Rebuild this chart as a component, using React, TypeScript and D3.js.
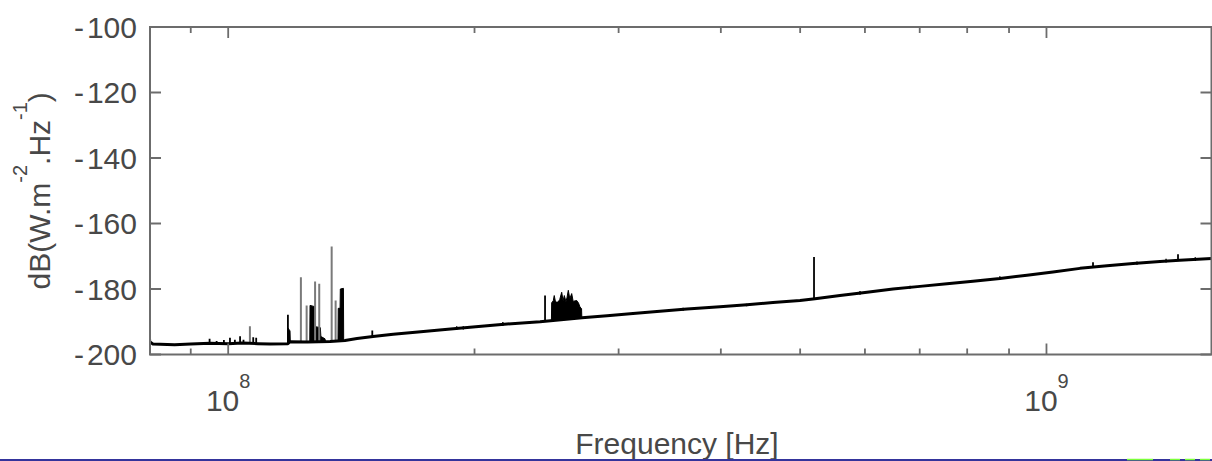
import React from 'react';
import * as d3 from 'd3';

// ---------- data (frequency in MHz, level in dB(W.m^-2.Hz^-1)) ----------
const xDomainMHz: [number, number] = [80.25, 1591];
const yDomain: [number, number] = [-200, -100];
const yTicks = [-200, -180, -160, -140, -120, -100];
const xMajorTicksMHz = [100, 1000];
const xMajorLabels = [
  { base: '10', exp: '8' },
  { base: '10', exp: '9' },
];
const xMinorTicksMHz = [90, 200, 300, 400, 500, 600, 700, 800, 900];

// noise floor (levels)
const baseline: [number, number][] = [
  [80.25, -196.2], [80.9, -196.8], [86.0, -197.0], [90.0, -196.8], [95.0, -196.6],
  [100.0, -196.7], [104.0, -196.5], [108.7, -196.7], [112.5, -196.8], [118.3, -196.7],
  [119.0, -196.1], [125.0, -196.2], [133.2, -196.0], [138.9, -195.7], [143.7, -195.1],
  [150.3, -194.5], [159.1, -193.8], [170.6, -193.1], [184.1, -192.4], [197.5, -191.7],
  [207.2, -191.2], [219.2, -190.7], [240.5, -190.0], [270.6, -188.8], [290.4, -188.2],
  [312.4, -187.5], [337.0, -186.8], [363.6, -186.1], [399.0, -185.4], [430.5, -184.8],
  [463.2, -184.1], [499.8, -183.5], [521.4, -183.0], [559.3, -182.0], [603.5, -181.0],
  [649.3, -180.0], [700.5, -179.2], [755.8, -178.4], [813.2, -177.6], [877.4, -176.8],
  [946.7, -175.8], [1018.5, -174.8], [1098.9, -173.7], [1185.7, -172.9], [1275.7, -172.2],
  [1376.4, -171.6], [1455.2, -171.2], [1591.0, -170.7],
];

// thin grey spikes [MHz, peak dB]
const greySpikes: [number, number][] = [
  [106.3, -191.4], [122.7, -176.4], [124.7, -185.0], [127.7, -177.7],
  [129.2, -178.4], [133.8, -167.0], [135.3, -183.5],
];

// black spikes [MHz, peak dB]
const blackSpikes: [number, number][] = [
  [80.3, -195.4], [94.9, -195.2], [96.8, -195.9], [98.8, -195.6], [100.5, -194.9],
  [101.9, -195.5], [103.4, -194.4], [104.4, -195.5], [107.3, -194.7], [108.2, -194.9],
  [118.3, -187.9], [150.0, -192.7], [243.9, -182.0], [519.9, -170.2],
  [1139.9, -171.8], [1447.9, -169.4],
];

// small ripple ticks on the floor [MHz, peak dB]
const ripples: [number, number][] = [
  [190.2, -191.4], [193.8, -191.4], [216.6, -190.1], [233.6, -190.0], [359.7, -185.7],
  [430.0, -184.5], [591.7, -180.6], [681.0, -179.0], [877.0, -176.1], [1290.0, -171.6],
  [1400.0, -170.8], [1520.0, -170.3],
];

// dense clusters drawn as filled outlines [MHz, top dB]
const cluster118: [number, number][] = [
  [118.2, -196.7], [118.3, -191.9], [119.0, -192.8], [119.1, -196.1],
];
const cluster127: [number, number][] = [
  [125.8, -196.2], [125.9, -185.0], [127.6, -185.4], [127.8, -191.5],
  [129.6, -191.8], [129.8, -194.5], [131.3, -195.2], [131.5, -196.0],
];
const cluster137: [number, number][] = [
  [136.2, -196.0], [136.3, -185.9], [137.0, -185.9], [137.1, -180.0],
  [138.3, -179.8], [138.4, -195.8],
];
const cluster250: [number, number][] = [
  [248.3, -190.0], [248.5, -184.2], [249.6, -183.6], [250.3, -182.0], [251.2, -184.0],
  [253.0, -184.0], [254.2, -183.2], [255.6, -181.0], [256.6, -183.6], [257.5, -182.0],
  [258.7, -183.9], [259.5, -182.5], [260.4, -180.4], [261.5, -183.0], [262.9, -181.4],
  [264.0, -183.8], [265.5, -183.6], [266.6, -183.5], [268.0, -184.3], [269.1, -185.5],
  [270.3, -186.0], [270.5, -188.8],
];
const clusters = [cluster118, cluster127, cluster137, cluster250];

// ---------- layout ----------
const W = 1212;
const H = 461;
const L = 150, R = 1211.5, T = 27, B = 354.5;
const FONT = "'Liberation Sans', Arial, Helvetica, sans-serif";
const AXIS = '#6c6c6c';
const TEXT = '#484848';

const x = d3.scaleLog().domain(xDomainMHz).range([L, R]);
const y = d3.scaleLinear().domain(yDomain).range([B, T]);

function baseAt(f: number): number {
  for (let i = 1; i < baseline.length; i++) {
    const a = baseline[i - 1], b = baseline[i];
    if (f <= b[0]) {
      const t = (Math.log(f) - Math.log(a[0])) / (Math.log(b[0]) - Math.log(a[0]));
      return a[1] + Math.max(0, Math.min(1, t)) * (b[1] - a[1]);
    }
  }
  return baseline[baseline.length - 1][1];
}

const floorLine = d3
  .line<[number, number]>()
  .x((d) => x(d[0]))
  .y((d) => y(d[1]))
  .curve(d3.curveLinear);

const clusterArea = d3
  .area<[number, number]>()
  .x((d) => x(d[0]))
  .y0((d) => y(baseAt(d[0])))
  .y1((d) => y(d[1]));

function yLabel(v: number) {
  const s = String(v);
  if (s.startsWith('-')) {
    return (
      <>
        <tspan>-</tspan>
        <tspan dx={3}>{s.slice(1)}</tspan>
      </>
    );
  }
  return s;
}

export default function App() {
  return (
    <svg
      width={W}
      height={H}
      viewBox={`0 0 ${W} ${H}`}
      style={{ position: 'absolute', left: 0, top: 0, background: '#fff' }}
      fontFamily={FONT}
    >
      <rect x={0} y={0} width={W} height={H} fill="#fff" />
      <defs>
        <clipPath id="plot">
          <rect x={L} y={T} width={R - L} height={B - T} />
        </clipPath>
      </defs>

      <g clipPath="url(#plot)">
        {clusters.map((c, i) => (
          <path key={'c' + i} d={clusterArea(c) || ''} fill="#000" stroke="#000" strokeWidth={1} />
        ))}
        {greySpikes.map((s, i) => (
          <line key={'g' + i} x1={x(s[0])} x2={x(s[0])} y1={y(s[1])} y2={y(baseAt(s[0]))}
            stroke="#7a7a7a" strokeWidth={2} />
        ))}
        {blackSpikes.map((s, i) => (
          <line key={'b' + i} x1={x(s[0])} x2={x(s[0])} y1={y(s[1])} y2={y(baseAt(s[0]))}
            stroke="#000" strokeWidth={1.8} />
        ))}
        {ripples.map((s, i) => (
          <line key={'r' + i} x1={x(s[0])} x2={x(s[0])} y1={y(s[1])} y2={y(baseAt(s[0])) + 1.5}
            stroke="#000" strokeWidth={1.4} />
        ))}
        <path d={floorLine(baseline) || ''} fill="none" stroke="#000" strokeWidth={3} strokeLinejoin="round" />
      </g>

      {/* axes box */}
      <rect x={L} y={T} width={R - L} height={B - T} fill="none" stroke={AXIS} strokeWidth={2} />

      {/* y ticks */}
      {yTicks.map((v) => (
        <g key={'y' + v}>
          <line x1={L} x2={L + 11} y1={y(v)} y2={y(v)} stroke={AXIS} strokeWidth={2} />
          <line x1={R} x2={R - 11} y1={y(v)} y2={y(v)} stroke={AXIS} strokeWidth={2} />
          <text x={137} y={y(v)} dy={10.5} textAnchor="end" fontSize={30} fill={TEXT}>
            {yLabel(v)}
          </text>
        </g>
      ))}

      {/* x ticks */}
      {xMinorTicksMHz.map((f) => (
        <g key={'m' + f}>
          <line x1={x(f)} x2={x(f)} y1={B} y2={B - 6} stroke={AXIS} strokeWidth={1.8} />
          <line x1={x(f)} x2={x(f)} y1={T} y2={T + 6} stroke={AXIS} strokeWidth={1.8} />
        </g>
      ))}
      {xMajorTicksMHz.map((f, i) => (
        <g key={'M' + f}>
          <line x1={x(f)} x2={x(f)} y1={B} y2={B - 11} stroke={AXIS} strokeWidth={1.8} />
          <line x1={x(f)} x2={x(f)} y1={T} y2={T + 11} stroke={AXIS} strokeWidth={1.8} />
          <text x={x(f)} y={411} textAnchor="middle" fontSize={30} fill={TEXT}>
            {xMajorLabels[i].base}
            <tspan dy={-23} fontSize={20}>{xMajorLabels[i].exp}</tspan>
          </text>
        </g>
      ))}

      {/* axis titles */}
      <text x={677} y={454} textAnchor="middle" fontSize={30} fill={TEXT}>
        Frequency [Hz]
      </text>
      <text transform={`translate(50,${(T + B) / 2}) rotate(-90)`} textAnchor="middle" fontSize={30} fill={TEXT}>
        dB(W.m
        <tspan dy={-23} fontSize={20}>-2</tspan>
        <tspan dy={23}>.Hz</tspan>
        <tspan dy={-23} fontSize={20}>-1</tspan>
        <tspan dy={23}>)</tspan>
      </text>

      {/* bottom frame edge of the source image */}
      <line x1={0} x2={W} y1={460} y2={460} stroke="#34349c" strokeWidth={2} />
      <line x1={1127} x2={1153} y1={459.5} y2={459.5} stroke="#7cff3a" strokeWidth={1.5} />
      <line x1={1170} x2={1212} y1={459.5} y2={459.5} stroke="#7cff3a" strokeWidth={1.5} strokeDasharray="10 5" />
    </svg>
  );
}
